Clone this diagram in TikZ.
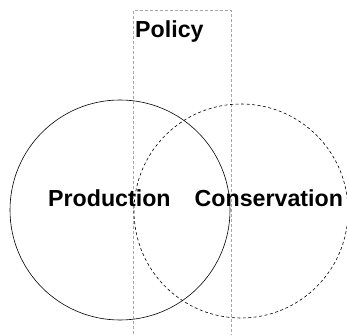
\documentclass[tikz,border=0pt]{standalone}
\usepackage{fontspec}
\setmainfont{Liberation Sans}
\usepackage{tikz}
\usetikzlibrary{positioning}

\tikzset{
	setcircle/.style={circle, draw, inner sep=0pt},
	setlabel/.style={font=\fontsize{23.2}{28}\selectfont\bfseries, inner sep=0pt},
	policybox/.style={draw=gray!70, dash pattern=on 3pt off 2pt, line width=0.6pt}
}

\begin{document}
\begin{tikzpicture}[x=1pt,y=1pt]
		\useasboundingbox (0,0) rectangle (347,334);
		\draw[policybox] (133,-10) rectangle (231,323.5);
		\node[setcircle, minimum size=220pt, line width=0.6pt] (prodset) at (120,124) {};
		\node[setcircle, minimum size=214pt, dash pattern=on 3pt off 2.5pt, line width=0.6pt] (consset) at (241,123) {};
		\node[setlabel, anchor=base west] (policy) at (135,296) {Policy};
		\node[setlabel, anchor=base west] (production) at (48,127.5) {Production};
		\node[setlabel, anchor=base west] (conservation) at (194.5,127.5) {Conservation};
		\end{tikzpicture}
\end{document}
